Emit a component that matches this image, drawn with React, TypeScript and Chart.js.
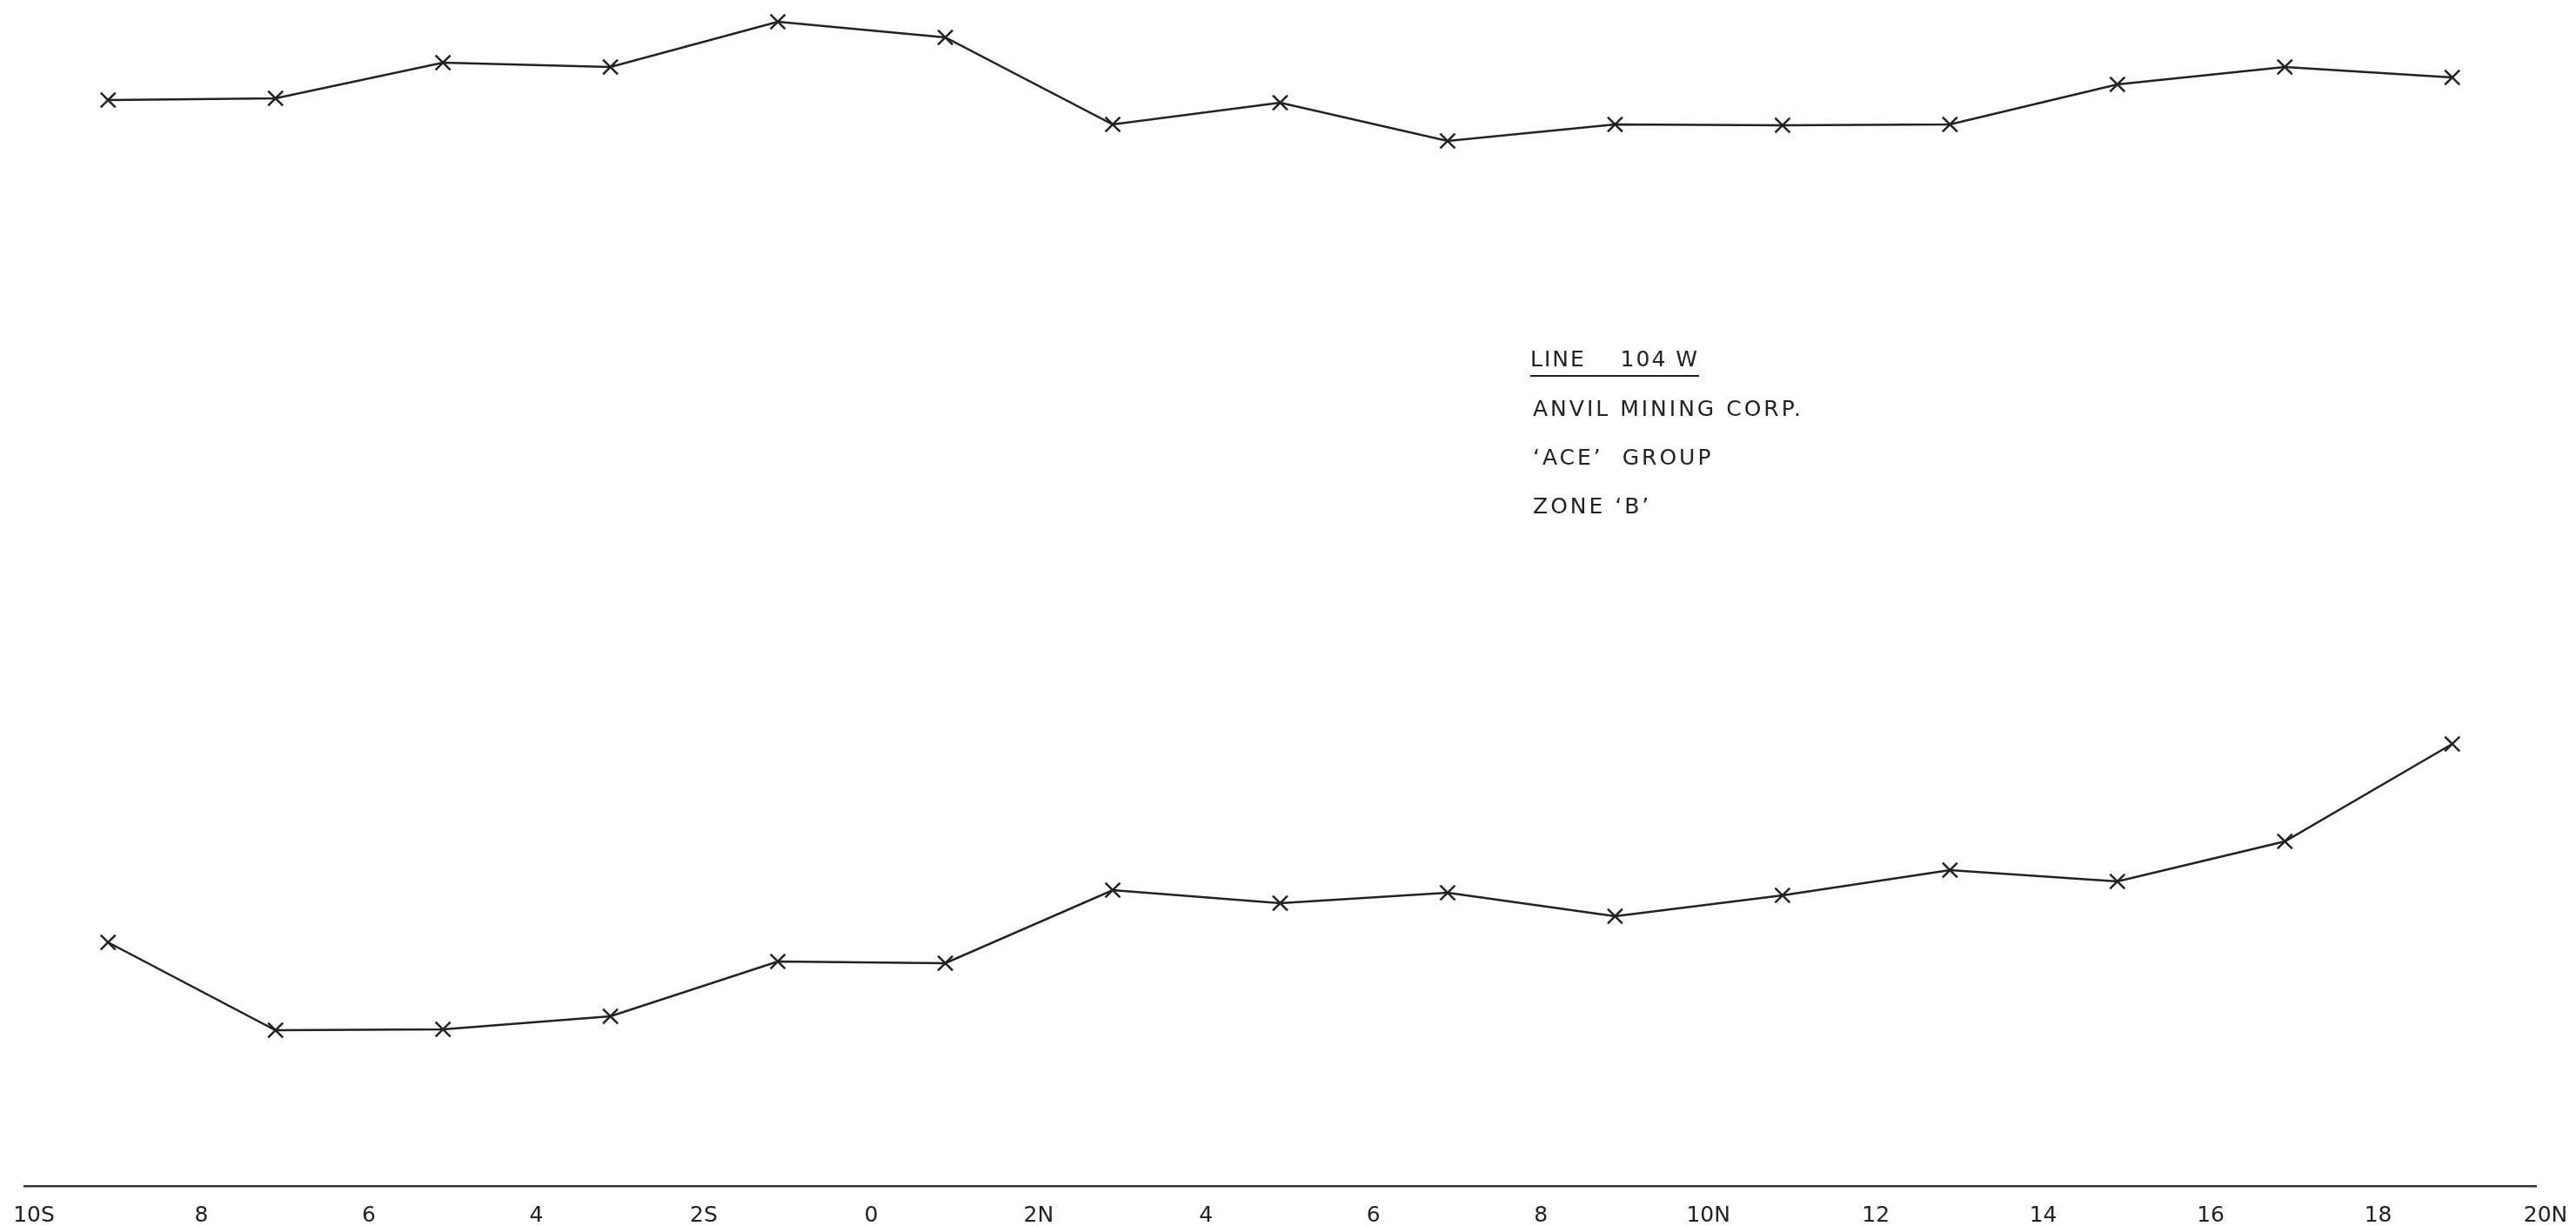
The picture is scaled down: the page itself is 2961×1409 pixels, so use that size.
import React, { useEffect, useRef } from "react";
import { Chart, registerables } from "chart.js";

Chart.register(...registerables);

// Stations along the line (odd stations, S negative / N positive)
const stations = [-9, -7, -5, -3, -1, 1, 3, 5, 7, 9, 11, 13, 15, 17, 19];
// Upper profile readings (relative units above baseline)
const upperProfile = [1248, 1250, 1291, 1286, 1338, 1320, 1220, 1245, 1201, 1220, 1219, 1220, 1266, 1286, 1274];
// Lower profile readings (relative units above baseline)
const lowerProfile = [280, 179, 180, 195, 258, 256, 340, 325, 337, 310, 334, 363, 350, 396, 508];

const tickStations = [-10, -8, -6, -4, -2, 0, 2, 4, 6, 8, 10, 12, 14, 16, 18, 20];
const tickLabels = ["10S", "8", "6", "4", "2S", "0", "2N", "4", "6", "8", "10N", "12", "14", "16", "18", "20N"];

const titleLines = ["ANVIL MINING CORP.", "\u2018ACE\u2019  GROUP", "ZONE \u2018B\u2019"];
const headingLine = "LINE    104 W";

const INK = "#222222";
const FONT = "'DejaVu Sans', 'Liberation Sans', sans-serif";

export default function App() {
  const canvasRef = useRef<HTMLCanvasElement | null>(null);

  useEffect(() => {
    const canvas = canvasRef.current;
    if (!canvas) return;
    const makePoints = (vals: number[]) => stations.map((s, i) => ({ x: s, y: vals[i] }));
    const ds = (label: string, vals: number[]) => ({
      label,
      data: makePoints(vals),
      borderColor: INK,
      borderWidth: 2.5,
      pointStyle: "crossRot",
      pointRadius: 12,
      pointBorderWidth: 2.5,
      pointBorderColor: INK,
      pointBackgroundColor: INK,
      tension: 0,
    });
    const chart = new Chart(canvas, {
      type: "line",
      data: {
        datasets: [ds("Upper profile", upperProfile), ds("Lower profile", lowerProfile)] as any,
      },
      options: {
        animation: false,
        responsive: true,
        maintainAspectRatio: false,
        devicePixelRatio: 1,
        layout: { autoPadding: false, padding: { left: 28, right: 46, top: 0, bottom: 0 } },
        plugins: {
          legend: { display: false },
          tooltip: { enabled: false },
          title: { display: false },
        },
        scales: {
          x: {
            type: "linear",
            min: -10,
            max: 20,
            grid: { display: false, drawTicks: false },
            border: { display: true, color: "#333333", width: 2.5 },
            afterBuildTicks: (scale: any) => {
              scale.ticks = tickStations.map((v) => ({ value: v }));
            },
            afterFit: (scale: any) => {
              scale.height = 46;
              scale.paddingLeft = 0;
              scale.paddingRight = 0;
            },
            ticks: {
              autoSkip: false,
              maxRotation: 0,
              padding: 19,
              labelOffset: 11,
              color: INK,
              font: { family: FONT, size: 25 },
              callback: (value: any) => {
                const idx = tickStations.indexOf(Number(value));
                return idx >= 0 ? tickLabels[idx] : "";
              },
            },
          },
          y: {
            type: "linear",
            display: false,
            min: 0,
            max: 1363,
          },
        },
      },
    });
    return () => chart.destroy();
  }, []);

  const textStyle: React.CSSProperties = {
    position: "absolute",
    left: 1759,
    fontFamily: FONT,
    fontSize: 25,
    lineHeight: "25px",
    color: INK,
    letterSpacing: "3px",
    whiteSpace: "pre",
  };

  return (
    <div
      style={{
        position: "fixed",
        left: 0,
        top: 0,
        width: 2961,
        height: 1409,
        background: "#ffffff",
        overflow: "hidden",
      }}
    >
      <canvas ref={canvasRef} style={{ display: "block", width: "100%", height: "100%" }} />
      <div style={{ ...textStyle, top: 400, letterSpacing: "2px", borderBottom: `2px solid ${INK}`, paddingBottom: 6 }}>
        {headingLine}
      </div>
      {titleLines.map((t, i) => (
        <div key={i} style={{ ...textStyle, left: 1762, top: 457 + i * 56 }}>
          {t}
        </div>
      ))}
    </div>
  );
}
